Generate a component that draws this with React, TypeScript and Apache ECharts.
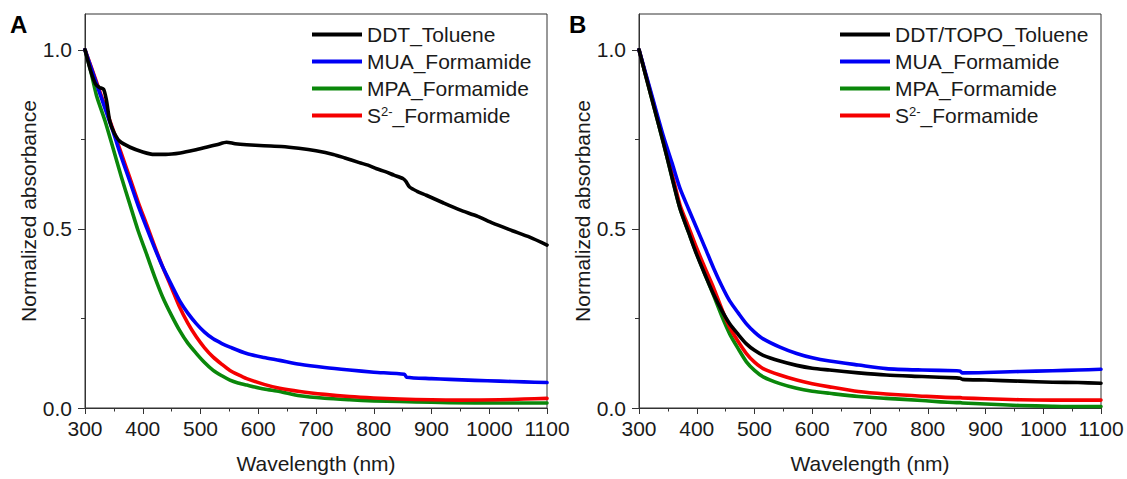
import React, { useEffect, useRef } from "react";
import * as echarts from "echarts";

// ---------- Panel A data ----------
const A_DDT_WL = [300, 310, 318, 325, 332, 337, 343, 350, 360, 378, 400, 420, 440, 465, 490, 510, 530, 545, 560, 580, 610, 640, 670, 700, 730, 750, 775, 790, 805, 820, 835, 851, 856, 862, 875, 891, 920, 949, 980, 1006, 1040, 1070, 1100];
const A_DDT_V = [1.0, 0.94, 0.905, 0.895, 0.89, 0.86, 0.8, 0.77, 0.745, 0.728, 0.715, 0.708, 0.708, 0.712, 0.72, 0.728, 0.736, 0.742, 0.738, 0.735, 0.732, 0.73, 0.725, 0.718, 0.708, 0.698, 0.685, 0.678, 0.668, 0.66, 0.65, 0.64, 0.632, 0.617, 0.605, 0.594, 0.573, 0.553, 0.535, 0.516, 0.495, 0.477, 0.455];

const A_MUA_WL = [300, 320, 335, 349, 363, 378, 392, 407, 421, 435, 450, 464, 478, 493, 507, 522, 537, 551, 580, 610, 637, 672, 715, 758, 800, 853, 857, 900, 931, 975, 1018, 1060, 1100];
const A_MUA_V = [1.0, 0.905, 0.835, 0.77, 0.7, 0.631, 0.565, 0.502, 0.445, 0.392, 0.343, 0.299, 0.265, 0.235, 0.212, 0.193, 0.18, 0.17, 0.152, 0.141, 0.133, 0.122, 0.113, 0.106, 0.1, 0.094, 0.086, 0.082, 0.08, 0.077, 0.075, 0.073, 0.071];

const A_MPA_WL = [300, 310, 320, 335, 349, 363, 378, 392, 407, 421, 435, 450, 464, 478, 493, 507, 522, 537, 551, 565, 580, 610, 637, 672, 715, 758, 800, 845, 900, 931, 1018, 1100];
const A_MPA_V = [1.0, 0.94, 0.872, 0.8, 0.723, 0.645, 0.567, 0.495, 0.428, 0.365, 0.308, 0.258, 0.216, 0.181, 0.152, 0.127, 0.105, 0.09, 0.078, 0.07, 0.064, 0.053, 0.046, 0.034, 0.027, 0.023, 0.02, 0.018, 0.016, 0.015, 0.014, 0.014];

const A_S2_WL = [300, 320, 335, 349, 363, 378, 392, 407, 421, 435, 450, 464, 478, 493, 507, 522, 537, 551, 565, 580, 610, 637, 672, 715, 758, 800, 845, 900, 950, 1018, 1060, 1100];
const A_S2_V = [1.0, 0.91, 0.84, 0.775, 0.71, 0.641, 0.575, 0.511, 0.45, 0.392, 0.335, 0.281, 0.237, 0.198, 0.168, 0.142, 0.122, 0.105, 0.093, 0.082, 0.066, 0.055, 0.046, 0.038, 0.032, 0.028, 0.025, 0.023, 0.022, 0.023, 0.025, 0.027];

// ---------- Panel B data ----------
const B_WL = [300, 321, 342, 357, 371, 386, 400, 415, 429, 443, 457, 472, 486, 500, 515, 544, 573, 600, 630, 680, 728, 790, 850, 856, 860, 900, 959, 1016, 1060, 1100];
const B_DDT_V = [1.0, 0.87, 0.742, 0.645, 0.557, 0.49, 0.428, 0.37, 0.318, 0.273, 0.235, 0.205, 0.179, 0.161, 0.147, 0.131, 0.119, 0.111, 0.106, 0.098, 0.092, 0.088, 0.084, 0.083, 0.08, 0.078, 0.075, 0.072, 0.071, 0.069];
const B_MUA_V = [1.0, 0.88, 0.76, 0.685, 0.613, 0.555, 0.502, 0.445, 0.391, 0.342, 0.299, 0.265, 0.235, 0.212, 0.193, 0.17, 0.152, 0.14, 0.131, 0.12, 0.11, 0.106, 0.104, 0.103, 0.098, 0.099, 0.102, 0.104, 0.106, 0.108];
const B_MPA_V = [1.0, 0.87, 0.742, 0.645, 0.557, 0.49, 0.43, 0.37, 0.315, 0.258, 0.207, 0.165, 0.129, 0.105, 0.087, 0.068, 0.055, 0.047, 0.041, 0.032, 0.027, 0.021, 0.015, 0.015, 0.014, 0.011, 0.007, 0.005, 0.004, 0.004];
const B_S2_V = [1.0, 0.875, 0.75, 0.655, 0.567, 0.505, 0.446, 0.388, 0.336, 0.278, 0.225, 0.185, 0.152, 0.128, 0.11, 0.092, 0.078, 0.068, 0.059, 0.046, 0.039, 0.033, 0.029, 0.029, 0.028, 0.026, 0.023, 0.022, 0.022, 0.022];

const LEGEND_A = ["DDT_Toluene", "MUA_Formamide", "MPA_Formamide", "S2-_Formamide"];
const LEGEND_B = ["DDT/TOPO_Toluene", "MUA_Formamide", "MPA_Formamide", "S2-_Formamide"];
const X_TICKS = [300, 400, 500, 600, 700, 800, 900, 1000, 1100];
const Y_TICKS = [0, 0.5, 1.0];
const Y_MINOR = [0.25, 0.75];

const FONT = "'Liberation Sans', Arial, sans-serif";
const TXT = "#1a1a1a";
const AX = "#333333";
const COLORS: Record<string, string> = {
  black: "#000000",
  blue: "#0000f5",
  green: "#0a870a",
  red: "#f50000",
};

const zip = (xs: number[], ys: number[]) => xs.map((x, i) => [x, ys[i]]);

function xAxisFor(gridIndex: number) {
  return {
    gridIndex,
    type: "value",
    min: X_TICKS[0],
    max: X_TICKS[X_TICKS.length - 1],
    interval: 100,
    name: "Wavelength (nm)",
    nameLocation: "middle",
    nameGap: 45,
    nameTextStyle: { fontSize: 21, color: TXT, fontFamily: FONT },
    axisLine: { show: true, onZero: false, lineStyle: { color: AX, width: 1 } },
    axisTick: { show: true, length: 6, lineStyle: { color: AX } },
    minorTick: { show: true, splitNumber: 2, length: 3.5, lineStyle: { color: AX } },
    axisLabel: { fontSize: 21, color: TXT, fontFamily: FONT, margin: 10, formatter: (v: number) => String(v) },
    splitLine: { show: false },
    minorSplitLine: { show: false },
  };
}

function yAxesFor(gridIndex: number) {
  return [
    {
      gridIndex,
      type: "value",
      position: "left",
      min: 0,
      max: 1.1,
      name: "Normalized absorbance",
      nameLocation: "middle",
      nameGap: 45,
      nameTextStyle: { fontSize: 21, color: TXT, fontFamily: FONT },
      axisLine: { show: true, onZero: false, lineStyle: { color: AX, width: 1 } },
      axisTick: { show: true, length: 7, lineStyle: { color: AX }, customValues: Y_TICKS },
      axisLabel: {
        fontSize: 21,
        color: TXT,
        fontFamily: FONT,
        margin: 13,
        customValues: Y_TICKS,
        formatter: (v: number) => v.toFixed(1),
      },
      splitLine: { show: false },
    },
    {
      gridIndex,
      type: "value",
      position: "left",
      min: 0,
      max: 1.1,
      axisLine: { show: false },
      axisTick: { show: true, length: 4, lineStyle: { color: AX }, customValues: Y_MINOR },
      axisLabel: { show: false },
      splitLine: { show: false },
    },
  ];
}

function lineSeries(name: string, data: number[][], color: string, axisIdx: number, yIdx: number) {
  return {
    type: "line",
    name,
    data,
    xAxisIndex: axisIdx,
    yAxisIndex: yIdx,
    showSymbol: false,
    symbol: "none",
    smooth: 0.25,
    color,
    lineStyle: { color, width: 3.6, join: "round", cap: "round" },
    itemStyle: { color },
    emphasis: { disabled: true },
  };
}

function legendFor(data: string[], left: number) {
  return {
    data,
    orient: "vertical",
    left,
    top: 24,
    padding: 0,
    itemGap: 6,
    itemWidth: 50,
    itemHeight: 4,
    icon: "rect",
    selectedMode: false,
    formatter: (name: string) =>
      name === "S2-_Formamide" ? "{n|S}{sup|2-}{n|_Formamide}" : "{n|" + name + "}",
    textStyle: {
      color: TXT,
      fontFamily: FONT,
      fontSize: 21,
      rich: {
        n: { fontSize: 21, color: TXT, fontFamily: FONT },
        sup: { fontSize: 13, lineHeight: 16, verticalAlign: "top", color: TXT, fontFamily: FONT },
      },
    },
  };
}

export default function App() {
  const ref = useRef<HTMLDivElement>(null);

  useEffect(() => {
    if (!ref.current) return;
    const chart = echarts.init(ref.current, undefined, { renderer: "svg" });
    const option = {
      animation: false,
      backgroundColor: "#ffffff",
      textStyle: { fontFamily: FONT },
      grid: [
        { left: 85, right: 580, top: 14, bottom: 67.5, show: true, borderColor: AX, borderWidth: 1, backgroundColor: "transparent" },
        { left: 639, right: 26, top: 14, bottom: 67.5, show: true, borderColor: AX, borderWidth: 1, backgroundColor: "transparent" },
      ],
      xAxis: [xAxisFor(0), xAxisFor(1)],
      yAxis: [...yAxesFor(0), ...yAxesFor(1)],
      legend: [legendFor(LEGEND_A, 312), legendFor(LEGEND_B, 840)],
      series: [
        lineSeries("MPA_Formamide", zip(A_MPA_WL, A_MPA_V), COLORS.green, 0, 0),
        lineSeries("S2-_Formamide", zip(A_S2_WL, A_S2_V), COLORS.red, 0, 0),
        lineSeries("MUA_Formamide", zip(A_MUA_WL, A_MUA_V), COLORS.blue, 0, 0),
        lineSeries("DDT_Toluene", zip(A_DDT_WL, A_DDT_V), COLORS.black, 0, 0),
        lineSeries("MPA_Formamide", zip(B_WL, B_MPA_V), COLORS.green, 1, 2),
        lineSeries("S2-_Formamide", zip(B_WL, B_S2_V), COLORS.red, 1, 2),
        lineSeries("MUA_Formamide", zip(B_WL, B_MUA_V), COLORS.blue, 1, 2),
        lineSeries("DDT/TOPO_Toluene", zip(B_WL, B_DDT_V), COLORS.black, 1, 2),
      ],
      graphic: [
        { type: "text", left: 10, top: 12, style: { text: "A", font: "bold 24px " + FONT, fill: "#000" } },
        { type: "text", left: 569, top: 12, style: { text: "B", font: "bold 24px " + FONT, fill: "#000" } },
      ],
    };
    chart.setOption(option as any);
    return () => chart.dispose();
  }, []);

  return (
    <div
      ref={ref}
      style={{ position: "absolute", left: 0, top: 0, width: 1127, height: 479, background: "#fff" }}
    />
  );
}
